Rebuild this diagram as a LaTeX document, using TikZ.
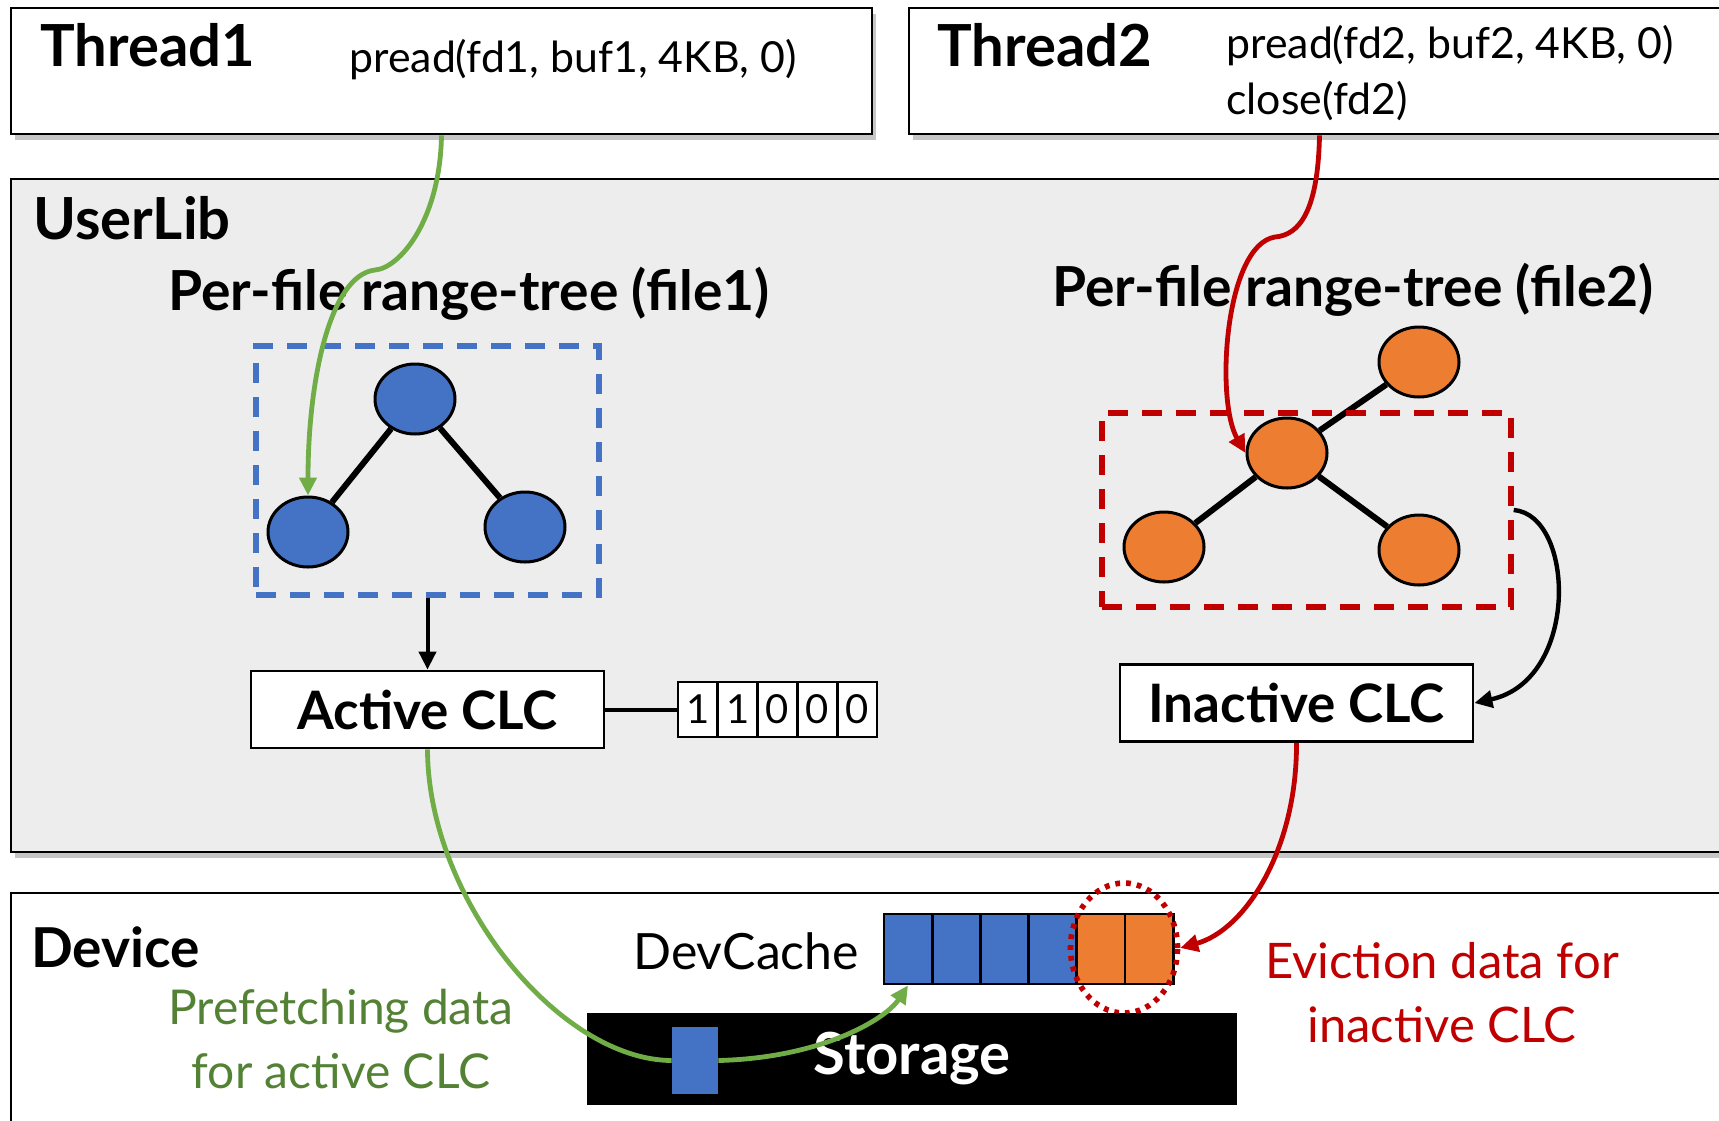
\documentclass[tikz,border=0pt]{standalone}
\usepackage{fontspec}
\setmainfont{Lato}
\usetikzlibrary{shapes.geometric,shadows,arrows.meta}

\definecolor{treeblue}{HTML}{4472C4}
\definecolor{treeorange}{HTML}{ED7D31}
\definecolor{fetchgreen}{HTML}{70AD47}
\definecolor{textgreen}{HTML}{548235}
\definecolor{evictred}{HTML}{C00000}
\definecolor{libgray}{HTML}{EDEDED}

\tikzset{
		% layer boxes: threads, library and device
		thread box/.style={rectangle,draw,line width=1.4pt,fill=white,inner sep=0,
			drop shadow={shadow xshift=2pt,shadow yshift=-3pt,opacity=0.45}},
		layer box/.style={rectangle,draw,line width=1.4pt,inner sep=0},
		title text/.style={font=\bfseries\fontsize{29}{33}\selectfont,anchor=base west,inner sep=0},
		call text/.style={font=\fontsize{21.4}{25}\selectfont,anchor=base west,inner sep=0},
		% range-tree nodes
		blue node/.style={ellipse,draw,line width=1.5pt,fill=treeblue,minimum width=40pt,minimum height=35pt,inner sep=0},
		orange node/.style={ellipse,draw,line width=1.5pt,fill=treeorange,minimum width=40pt,minimum height=35pt,inner sep=0},
		tree edge/.style={line width=3pt},
		range box/.style={rectangle,draw,line width=2.7pt,dash pattern=on 10pt off 7pt,inner sep=0},
		clc box/.style={rectangle,draw,line width=1.4pt,fill=white,minimum width=176.5pt,minimum height=38.5pt,
			font=\bfseries\fontsize{26.5}{30}\selectfont},
		bit cell/.style={rectangle,draw,line width=1.4pt,fill=white,minimum width=19.9pt,minimum height=27.5pt,
			inner sep=0,font=\fontsize{20}{24}\selectfont},
		cache cell/.style={rectangle,draw,line width=1.4pt,minimum width=24.1pt,minimum height=35pt,inner sep=0},
		flow/.style={line width=2.4pt,-{Triangle[length=9pt,width=8.5pt]}}
	}

\begin{document}
\begin{tikzpicture}[x=0.5pt,y=-0.5pt]
		\useasboundingbox (0,0) rectangle (1719,1120);

		% threads
		\node[thread box,minimum width=430.5pt,minimum height=63pt] (t1) at (441.5,71) {};
		\node[thread box,minimum width=410.5pt,minimum height=63pt] (t2) at (1319.5,71) {};
		\node[title text] (t1name) at (40,66) {Thread1};
		\node[call text] (t1call) at (349,72) {pread(fd1, buf1, 4KB, 0)};
		\node[title text] (t2name) at (937,66) {Thread2};
		\node[call text] (t2call) at (1226,58) {pread(fd2, buf2, 4KB, 0)};
		\node[call text] (t2close) at (1226,114) {close(fd2)};

		% user library
		\node[layer box,fill=libgray,minimum width=859.5pt,minimum height=336.5pt,
			drop shadow={shadow xshift=2pt,shadow yshift=-3pt,opacity=0.45}] (lib) at (870.5,515.5) {};
		\node[title text] (libname) at (33,239) {UserLib};
		\node[title text,font=\bfseries\fontsize{27.6}{31}\selectfont] (tree1name) at (168,310) {Per-file range-tree (file1)};
		\node[title text,font=\bfseries\fontsize{27.6}{31}\selectfont] (tree2name) at (1052,306) {Per-file range-tree (file2)};

		% range-tree of file1
		\node[range box,draw=treeblue,minimum width=171.5pt,minimum height=124.5pt] (bluetree) at (427.5,470.5) {};
		\node[blue node] (b1) at (415,399) {};
		\node[blue node] (b2) at (308,532) {};
		\node[blue node] (b3) at (525,527) {};
		\draw[tree edge] (b1) -- (b2);
		\draw[tree edge] (b1) -- (b3);

		% range-tree of file2
		\node[orange node] (o1) at (1419,362) {};
		\node[orange node] (o2) at (1287,453) {};
		\node[orange node] (o3) at (1164,547) {};
		\node[orange node] (o4) at (1419,550) {};
		\draw[tree edge] (o2) -- (o1);
		\draw[tree edge] (o2) -- (o3);
		\draw[tree edge] (o2) -- (o4);
		\node[range box,draw=evictred,minimum width=204.5pt,minimum height=97pt] (redtree) at (1306.5,510) {};

		% CLCs
		\node[clc box] (active) at (427.5,709.5) {Active CLC};
		\node[clc box] (inactive) at (1296.5,703) {Inactive CLC};
		\foreach \b [count=\i] in {1,1,0,0,0}
			\node[bit cell] (bit\i) at ({658+39.8*\i},709.5) {\b};
		\draw[line width=2pt] (active.east) -- (bit1.west);
		\draw[flow,line width=2pt] (bluetree.south) -- (active.north);

		% device
		\node[layer box,fill=white,minimum width=859.5pt,minimum height=121pt] (dev) at (870.5,1014) {};
		\node[title text,font=\bfseries\fontsize{27.5}{31}\selectfont] (devname) at (31,967) {Device};
		\node[call text,font=\fontsize{25}{29}\selectfont] (cachename) at (633,969) {DevCache};
		\foreach \c [count=\i] in {treeblue,treeblue,treeblue,treeblue,treeorange,treeorange}
			\node[cache cell,fill=\c] (cache\i) at ({859.8+48.2*\i},949) {};
		\node[ellipse,draw=evictred,line width=2.8pt,dash pattern=on 2.4pt off 3pt,
			minimum width=53.5pt,minimum height=65pt] (evict) at (1124,948) {};
		\node[rectangle,fill=black,minimum width=325pt,minimum height=46pt,inner sep=0,text=white,
			font=\bfseries\fontsize{29}{33}\selectfont] (storage) at (912,1059) {Storage};
		\node[rectangle,fill=treeblue,minimum width=23pt,minimum height=33.5pt,inner sep=0] (scell) at (695,1060.5) {};
		\node[align=center,text=textgreen,font=\fontsize{24}{32}\selectfont] (fetchtext) at (341,1039)
			{Prefetching data\\for active CLC};
		\node[align=center,text=evictred,font=\fontsize{24.5}{32}\selectfont] (evicttext) at (1442,993)
			{Eviction data for\\inactive CLC};

		% requests and data movement
		\coordinate (gbend) at (375,270);
		\coordinate (rbend) at (1275,237);
		\draw[flow,fetchgreen] (t1.south) .. controls (440,220) and (400,268) .. (gbend)
			.. controls (330,275) and (308,380) .. (b2.north);
		\draw[flow,evictred] (t2.south) .. controls (1318,210) and (1300,235) .. (rbend)
			.. controls (1225,245) and (1215,400) .. (o2.west);
		\draw[flow,line width=2.2pt] (redtree.east) .. controls (1575,515) and (1580,680) .. (inactive.east);
		\draw[flow,evictred] (inactive.south) .. controls (1297,850) and (1245,930) .. (evict.east);
		\draw[line width=2.4pt,fetchgreen] (active.south) .. controls (428,900) and (560,1060) .. (scell.west);
		\draw[flow,fetchgreen] (scell.east) .. controls (820,1058) and (885,1020) .. (cache1.south);
	\end{tikzpicture}
\end{document}
